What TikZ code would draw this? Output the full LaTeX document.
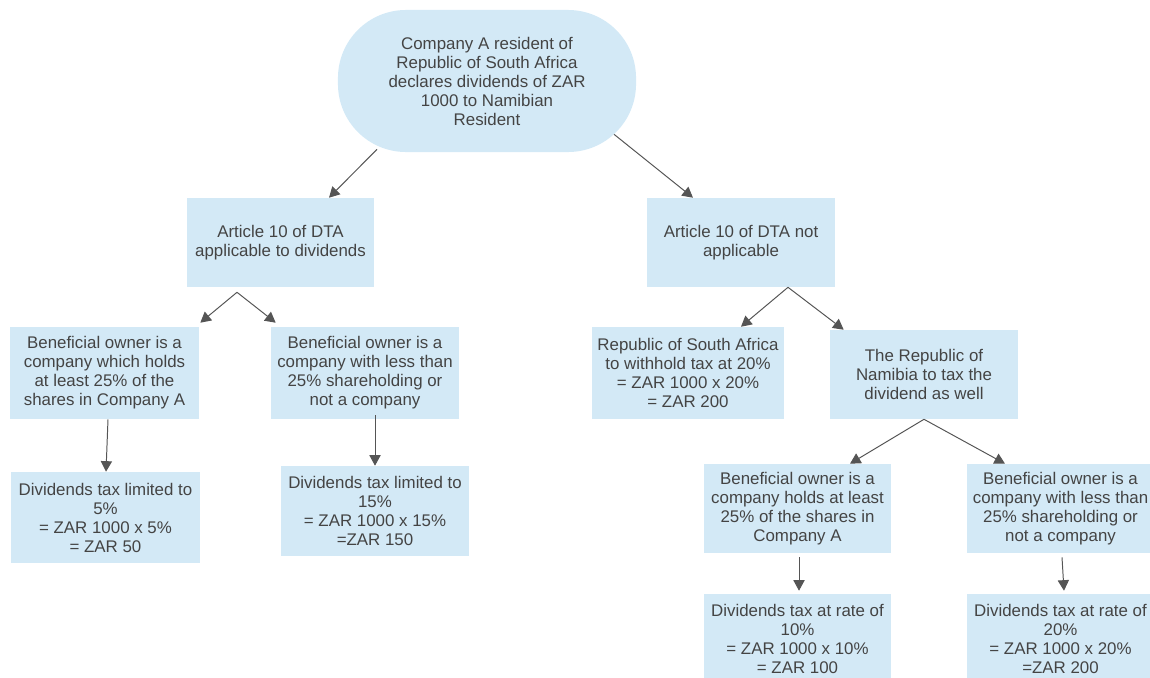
\documentclass[tikz,border=0pt]{standalone}
\usepackage{fontspec}
\setmainfont{Liberation Sans}
\usepackage{tikz}
\usetikzlibrary{arrows.meta, calc}
\usepackage{xcolor}
\definecolor{box-blue}{HTML}{D3E9F6}
\definecolor{line-grey}{HTML}{555555}
\definecolor{text-grey}{HTML}{444444}
\tikzset{
  taxbox/.style={fill=box-blue, text=text-grey, align=center, inner sep=0pt,
    font=\fontsize{12pt}{13.5pt}\selectfont},
  link/.style={-{Triangle[length=7.5pt, width=8pt]}, line-grey, line width=0.7pt}
}

\begin{document}
\begin{tikzpicture}[x=0.025cm, y=-0.025cm]
        \clip (0,0) rectangle (1150,677);
        % ── root statement ──
        \node[taxbox, rounded corners=1.7cm, minimum width=7.45cm, minimum height=3.55cm]
              (root) at (487,81)
              {Company A resident of\\Republic of South Africa\\declares dividends of ZAR\\1000 to Namibian\\Resident};

        % ── first split: is Article 10 applicable ──
        \node[taxbox, minimum width=4.675cm, minimum height=2.225cm] (artApp) at (280.5,242.5)
              {Article 10 of DTA\\applicable to dividends};
        \node[taxbox, minimum width=4.7cm, minimum height=2.225cm] (artNot) at (741,242.5)
              {Article 10 of DTA not\\applicable};

        % ── Article 10 applicable ──
        \node[taxbox, minimum width=4.725cm, minimum height=2.3cm] (benHold) at (104.5,373)
              {Beneficial owner is a\\company which holds\\at least 25\% of the\\shares in Company A};
        \node[taxbox, minimum width=4.7cm, minimum height=2.3cm] (benLess) at (365,373)
              {Beneficial owner is a\\company with less than\\25\% shareholding or\\not a company};
        \node[taxbox, minimum width=4.725cm, minimum height=2.275cm] (taxFive) at (105.5,517.5)
              {Dividends tax limited to\\5\%\\= ZAR 1000 x 5\%\\= ZAR 50};
        \node[taxbox, minimum width=4.7cm, minimum height=2.25cm] (taxFifteen) at (375,511)
              {Dividends tax limited to\\15\%\\= ZAR 1000 x 15\%\\=ZAR 150};

        % ── Article 10 not applicable ──
        \node[taxbox, minimum width=4.8cm, minimum height=2.3cm] (rsaWith) at (688,373)
              {Republic of South Africa\\to withhold tax at 20\%\\= ZAR 1000 x 20\%\\= ZAR 200};
        \node[taxbox, minimum width=4.7cm, minimum height=2.225cm] (namTax) at (924,374.5)
              {The Republic of\\Namibia to tax the\\dividend as well};
        \node[taxbox, minimum width=4.675cm, minimum height=2.225cm] (namHold) at (797.5,508.5)
              {Beneficial owner is a\\company holds at least\\25\% of the shares in\\Company A};
        \node[taxbox, minimum width=4.675cm, minimum height=2.225cm] (namLess) at (1060.5,508.5)
              {Beneficial owner is a\\company with less than\\25\% shareholding or\\not a company};
        \node[taxbox, minimum width=4.675cm, minimum height=2.225cm] (namTen) at (797.5,638.5)
              {Dividends tax at rate of\\10\%\\= ZAR 1000 x 10\%\\= ZAR 100};
        \node[taxbox, minimum width=4.675cm, minimum height=2.225cm] (namTwenty) at (1060.5,638.5)
              {Dividends tax at rate of\\20\%\\= ZAR 1000 x 20\%\\=ZAR 200};

        % fork points
        \coordinate (appFork) at ($(artApp.south)+(-43.5,5)$);
        \coordinate (notFork) at ($(artNot.south)+(47,0)$);
        \coordinate (namFork) at (namTax.south);

        % ── connectors ──
        \draw[link] ($(root.south)+(-110,-3)$) -- ($(artApp.north)+(48.5,0)$);
        \draw[link] ($(root.south)+(127,-18)$) -- ($(artNot.north)+(-48,0)$);
        \draw[link] (appFork) -- ($(benHold.north east)+(1,-4)$);
        \draw[link] (appFork) -- ($(benLess.north west)+(5,-4)$);
        \draw[link] (notFork) -- ($(rsaWith.north)+(53,0)$);
        \draw[link] (notFork) -- ($(namTax.north west)+(14,0)$);
        \draw[link] (namFork) -- ($(namHold.north)+(52.5,0)$);
        \draw[link] (namFork) -- ($(namLess.north)+(-55.5,0)$);
        \draw[link] ($(benHold.south)+(3.5,0)$) -- ($(taxFive.north)+(0.5,0)$);
        \draw[link] ($(benLess.south)+(10,-4)$) -- (taxFifteen.north);
        \draw[link] ($(namHold.south)+(1.5,4)$) -- ($(namTen.north)+(1.5,-3)$);
        \draw[link] ($(namLess.south)+(1.5,4)$) -- ($(namTwenty.north)+(3.5,-3)$);
      \end{tikzpicture}
\end{document}
